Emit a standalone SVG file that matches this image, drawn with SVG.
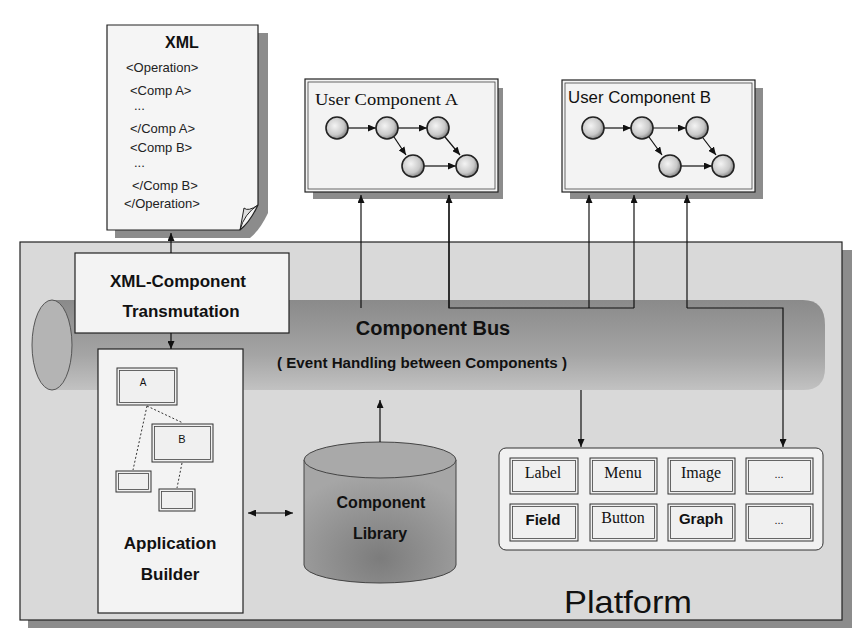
<svg xmlns="http://www.w3.org/2000/svg" width="853" height="633" viewBox="0 0 853 633">
<style>
.sans{font-family:"Liberation Sans",Arial,sans-serif;fill:#111}
.serif{font-family:"Liberation Serif","Times New Roman",serif;fill:#111}
.b{font-weight:bold}
.box{fill:#f3f3f3;stroke:#222;stroke-width:1.2}
.inner{fill:none;stroke:#444;stroke-width:0.8}
.shadow{fill:#8c8c8c}
.conn{fill:none;stroke:#111;stroke-width:1.2}
.dot{fill:none;stroke:#333;stroke-width:1;stroke-dasharray:2,2}
.circ{fill:url(#cg);stroke:#222;stroke-width:1.6}
.cell{fill:#f0f0f0;stroke:#333;stroke-width:1}
.xt{font-family:"Liberation Sans",Arial,sans-serif;font-size:13px;fill:#222}
</style>
<defs>
<marker id="ah" viewBox="0 0 8 7" refX="8" refY="3.5" markerWidth="8" markerHeight="7" markerUnits="userSpaceOnUse" orient="auto-start-reverse">
<path d="M0,0 L8,3.5 L0,7 z" fill="#111"/>
</marker>
<radialGradient id="cg" cx="0.4" cy="0.4" r="0.6">
<stop offset="0" stop-color="#f4f4f4"/>
<stop offset="0.7" stop-color="#c8c8c8"/>
<stop offset="1" stop-color="#8a8a8a"/>
</radialGradient>
<linearGradient id="tube" x1="0" y1="0" x2="0" y2="1">
<stop offset="0" stop-color="#8a8a8a"/>
<stop offset="0.6" stop-color="#a4a4a4"/>
<stop offset="1" stop-color="#c2c2c2"/>
</linearGradient>
<radialGradient id="cyl" cx="0.5" cy="0.8" r="0.7">
<stop offset="0" stop-color="#7c7c7c"/>
<stop offset="1" stop-color="#a6a6a6"/>
</radialGradient>
</defs>
<rect width="853" height="633" fill="#ffffff"/>

<g id="platform">
<rect class="shadow" x="28" y="250" width="824" height="378"/>
<rect x="20" y="242" width="822" height="378" fill="#d9d9d9" stroke="#222" stroke-width="1.2"/>
<text class="sans" x="628" y="613" font-size="32" text-anchor="middle" textLength="128" lengthAdjust="spacingAndGlyphs">Platform</text>
</g>

<g id="component-bus">
<path d="M52,300 H803 Q825,300 825,325 V368 Q825,390 803,390 H52 Z" fill="url(#tube)"/>
<ellipse cx="52" cy="345" rx="20" ry="45" fill="#b4b4b4" stroke="#555" stroke-width="1"/>
<text class="sans b" x="433" y="335" font-size="20" text-anchor="middle">Component Bus</text>
<text class="sans b" x="422" y="368" font-size="14" text-anchor="middle" textLength="290" lengthAdjust="spacingAndGlyphs">( Event Handling between Components )</text>
</g>

<g id="xml-doc">
<path class="shadow" d="M115,33 H268 V213 Q260,230 250,238 H115 Z"/>
<path d="M107,25 H258 V205 Q250,222 240,230 H107 Z" fill="#f5f5f5" stroke="#222" stroke-width="1.2"/>
<path d="M240,230 Q244,214 258,205 Q248,212 244,208 Z" fill="#ddd" stroke="#222" stroke-width="1"/>
<text class="sans b" x="182" y="48" font-size="16" text-anchor="middle">XML</text>
<text class="xt" x="126" y="72">&lt;Operation&gt;</text>
<text class="xt" x="130" y="95">&lt;Comp A&gt;</text>
<text class="xt" x="134" y="110">...</text>
<text class="xt" x="130" y="133">&lt;/Comp A&gt;</text>
<text class="xt" x="130" y="152">&lt;Comp B&gt;</text>
<text class="xt" x="134" y="167">...</text>
<text class="xt" x="132" y="190">&lt;/Comp B&gt;</text>
<text class="xt" x="124" y="208">&lt;/Operation&gt;</text>
</g>

<g id="user-component-a">
<rect class="shadow" x="313" y="88" width="190" height="111"/>
<rect class="box" x="305" y="79" width="193" height="113"/>
<rect class="inner" x="308" y="82" width="187" height="107"/>
<text class="serif" x="315" y="105" font-size="16" textLength="143" lengthAdjust="spacingAndGlyphs">User Component A</text>
<line class="conn" x1="348" y1="128" x2="376" y2="128" marker-end="url(#ah)"/>
<line class="conn" x1="398" y1="128" x2="427" y2="128" marker-end="url(#ah)"/>
<line class="conn" x1="394" y1="137" x2="406" y2="155" marker-end="url(#ah)"/>
<line class="conn" x1="445" y1="137" x2="460" y2="155" marker-end="url(#ah)"/>
<line class="conn" x1="424" y1="166" x2="456" y2="166" marker-end="url(#ah)"/>
<circle class="circ" cx="337" cy="128" r="11"/>
<circle class="circ" cx="387" cy="128" r="11"/>
<circle class="circ" cx="438" cy="128" r="11"/>
<circle class="circ" cx="413" cy="166" r="11"/>
<circle class="circ" cx="467" cy="166" r="11"/>
</g>

<g id="user-component-b">
<rect class="shadow" x="570" y="88" width="193" height="111"/>
<rect class="box" x="562" y="80" width="193" height="112"/>
<rect class="inner" x="565" y="83" width="187" height="106"/>
<text class="sans" x="568" y="103" font-size="16" textLength="143" lengthAdjust="spacingAndGlyphs">User Component B</text>
<line class="conn" x1="604" y1="128" x2="631" y2="128" marker-end="url(#ah)"/>
<line class="conn" x1="653" y1="128" x2="686" y2="128" marker-end="url(#ah)"/>
<line class="conn" x1="649" y1="137" x2="662" y2="155" marker-end="url(#ah)"/>
<line class="conn" x1="703" y1="138" x2="716" y2="155" marker-end="url(#ah)"/>
<line class="conn" x1="681" y1="166" x2="712" y2="166" marker-end="url(#ah)"/>
<circle class="circ" cx="593" cy="128" r="11"/>
<circle class="circ" cx="642" cy="128" r="11"/>
<circle class="circ" cx="697" cy="128" r="11"/>
<circle class="circ" cx="670" cy="166" r="11"/>
<circle class="circ" cx="723" cy="166" r="11"/>
</g>

<g id="xml-component-transmutation">
<rect class="box" x="75" y="253" width="214" height="80"/>
<text class="sans b" x="178" y="287" font-size="17" text-anchor="middle">XML-Component</text>
<text class="sans b" x="181" y="317" font-size="17" text-anchor="middle">Transmutation</text>
</g>

<g id="application-builder">
<rect class="box" x="98" y="349" width="145" height="264"/>
<line class="dot" x1="147" y1="406" x2="133" y2="470"/>
<line class="dot" x1="147" y1="406" x2="183" y2="423"/>
<line class="dot" x1="182" y1="463" x2="177" y2="488"/>
<rect class="cell" x="117" y="368" width="60" height="37"/>
<rect class="inner" x="119.5" y="370.5" width="55" height="32"/>
<text class="sans" x="143" y="386" font-size="10" text-anchor="middle">A</text>
<rect class="cell" x="152" y="424" width="61" height="38"/>
<rect class="inner" x="154.5" y="426.5" width="56" height="33"/>
<text class="sans" x="182" y="443" font-size="11" text-anchor="middle">B</text>
<rect class="cell" x="116" y="471" width="35" height="21"/>
<rect class="inner" x="118.5" y="473.5" width="30" height="16"/>
<rect class="cell" x="159" y="489" width="36" height="22"/>
<rect class="inner" x="161.5" y="491.5" width="31" height="17"/>
<text class="sans b" x="170" y="549" font-size="17" text-anchor="middle">Application</text>
<text class="sans b" x="170" y="580" font-size="17" text-anchor="middle">Builder</text>
</g>

<g id="component-library">
<path d="M304,460 V565 A76,18 0 0 0 456,565 V460 Z" fill="url(#cyl)" stroke="#444" stroke-width="1"/>
<ellipse cx="380" cy="460" rx="76" ry="18" fill="#a9a9a9" stroke="#444" stroke-width="1"/>
<text class="sans b" x="381" y="508" font-size="16" text-anchor="middle">Component</text>
<text class="sans b" x="380" y="539" font-size="16" text-anchor="middle">Library</text>
</g>

<g id="widget-panel">
<rect x="499" y="448" width="324" height="102" rx="7" fill="#f1f1f1" stroke="#333" stroke-width="1"/>
<rect class="cell" x="510" y="458" width="68" height="36"/>
<rect class="inner" x="512.5" y="460.5" width="63" height="31"/>
<rect class="cell" x="590" y="458" width="67" height="36"/>
<rect class="inner" x="592.5" y="460.5" width="62" height="31"/>
<rect class="cell" x="668" y="458" width="67" height="36"/>
<rect class="inner" x="670.5" y="460.5" width="62" height="31"/>
<rect class="cell" x="746" y="458" width="67" height="36"/>
<rect class="inner" x="748.5" y="460.5" width="62" height="31"/>
<rect class="cell" x="510" y="504" width="68" height="37"/>
<rect class="inner" x="512.5" y="506.5" width="63" height="32"/>
<rect class="cell" x="590" y="504" width="67" height="37"/>
<rect class="inner" x="592.5" y="506.5" width="62" height="32"/>
<rect class="cell" x="668" y="504" width="67" height="37"/>
<rect class="inner" x="670.5" y="506.5" width="62" height="32"/>
<rect class="cell" x="746" y="504" width="67" height="37"/>
<rect class="inner" x="748.5" y="506.5" width="62" height="32"/>
<text class="serif" x="543" y="478" font-size="16" text-anchor="middle">Label</text>
<text class="serif" x="623" y="478" font-size="16" text-anchor="middle">Menu</text>
<text class="serif" x="701" y="478" font-size="16" text-anchor="middle">Image</text>
<text class="sans" x="779" y="478" font-size="11" text-anchor="middle" fill="#555">...</text>
<text class="sans b" x="543" y="525" font-size="15" text-anchor="middle">Field</text>
<text class="serif" x="623" y="523" font-size="16" text-anchor="middle">Button</text>
<text class="sans b" x="701" y="524" font-size="15" text-anchor="middle">Graph</text>
<text class="sans" x="779" y="524" font-size="11" text-anchor="middle" fill="#555">...</text>
</g>

<g id="connectors">
<line class="conn" x1="171" y1="253" x2="171" y2="233" marker-end="url(#ah)"/>
<line class="conn" x1="171" y1="333" x2="171" y2="349" marker-end="url(#ah)"/>
<line class="conn" x1="361" y1="308" x2="361" y2="195" marker-end="url(#ah)"/>
<path class="conn" d="M449,195 V308 H634"/>
<line class="conn" x1="449" y1="308" x2="449" y2="195" marker-end="url(#ah)"/>
<line class="conn" x1="589" y1="308" x2="589" y2="195" marker-end="url(#ah)"/>
<line class="conn" x1="634" y1="308" x2="634" y2="195" marker-end="url(#ah)"/>
<line class="conn" x1="687" y1="308" x2="687" y2="195" marker-end="url(#ah)"/>
<path class="conn" d="M687,308 H783 V447" marker-end="url(#ah)"/>
<line class="conn" x1="581" y1="390" x2="581" y2="447" marker-end="url(#ah)"/>
<line class="conn" x1="380" y1="442" x2="380" y2="400" marker-end="url(#ah)"/>
<line class="conn" x1="248" y1="513" x2="293" y2="513" marker-start="url(#ah)" marker-end="url(#ah)"/>
</g>
</svg>
